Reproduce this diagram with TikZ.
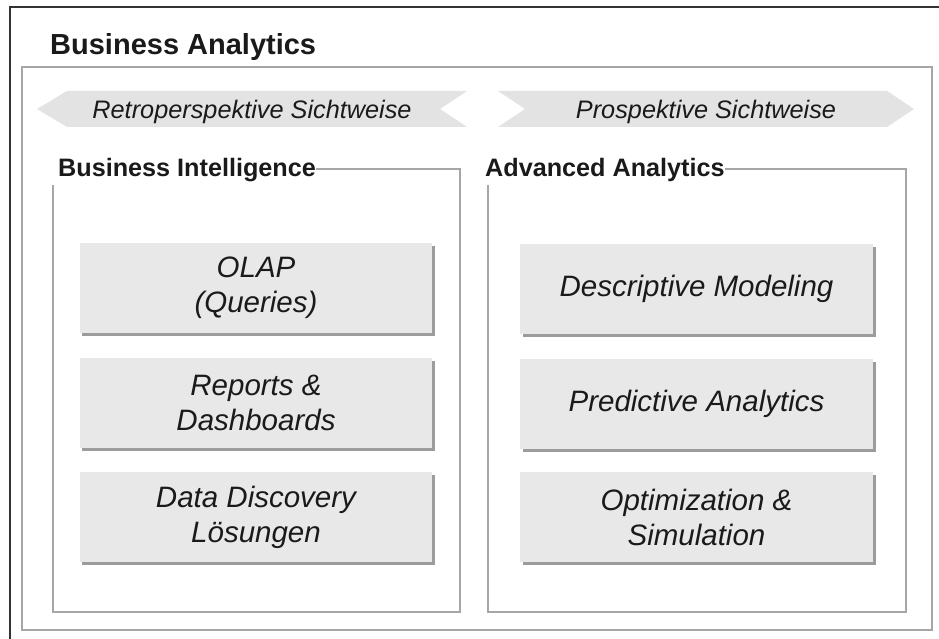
\documentclass[tikz,border=0pt]{standalone}
\usepackage{fontspec}
\setmainfont{Liberation Sans}
\usetikzlibrary{shadows}
\definecolor{framegray}{HTML}{A6A6A6}
\definecolor{arrowfill}{HTML}{E3E3E3}
\definecolor{boxfill}{HTML}{E8E8E8}
\definecolor{txt}{HTML}{1A1A1A}
\tikzset{
  itembox/.style={fill=boxfill, minimum width=352bp, minimum height=90bp, inner sep=0pt,
    align=center, text=txt, font=\itshape\fontsize{29.5bp}{35bp}\selectfont,
    drop shadow={shadow xshift=2.5bp, shadow yshift=-3bp, fill=black!70, opacity=0.55}},
  grouplabel/.style={anchor=base west, inner sep=0pt, text=txt, font=\bfseries\fontsize{25.2bp}{30bp}\selectfont},
  viewlabel/.style={anchor=base, inner sep=0pt, text=txt, font=\itshape\fontsize{25.3bp}{30bp}\selectfont},
  groupframe/.style={draw=framegray, line width=1.4bp},
  viewarrow/.style={fill=arrowfill, draw=none}
}
\begin{document}
\begin{tikzpicture}[x=1bp, y=-1bp]
\useasboundingbox (0,0) rectangle (939,639);
\fill[white] (0,0) rectangle (939,639);
% outer frame
\draw[black!80, line width=2bp] (10,640) -- (10,7) -- (940,7);
\node[anchor=base west, inner sep=0pt, text=txt, font=\bfseries\fontsize{29bp}{34bp}\selectfont] (title) at (50,55) {Business Analytics};
% inner frame
\draw[groupframe] (22,67) rectangle (932,630);
% view arrows
\fill[viewarrow] (37,109) -- (67,91) -- (467,91) -- (440,109) -- (467,127) -- (67,127) -- cycle;
\fill[viewarrow] (498,91) -- (887,91) -- (914,109) -- (887,127) -- (498,127) -- (525,109) -- cycle;
\node[viewlabel] (retro) at (252,119) {Retroperspektive Sichtweise};
\node[viewlabel] (pro) at (706,119) {Prospektive Sichtweise};
% groups
\node[grouplabel] (bi) at (58,177) {Business Intelligence};
\node[grouplabel] (aa) at (485,177) {Advanced Analytics};
\draw[groupframe] (bi.east |- 0,169) -- (460,169) -- (460,612) -- (53,612) -- (53,185);
\draw[groupframe] (aa.east |- 0,169) -- (906,169) -- (906,612) -- (488,612) -- (488,185);
% items
\node[itembox] (olap) at (256,288) {OLAP\\(Queries)};
\node[itembox] (rep) at (256,402.5) {Reports \&\\Dashboards};
\node[itembox] (dd) at (256,517) {Data Discovery\\Lösungen};
\node[itembox, minimum width=353bp] (desc) at (696.5,289) {Descriptive Modeling};
\node[itembox, minimum width=353bp] (pred) at (696.5,403.5) {Predictive Analytics};
\node[itembox, minimum width=353bp] (opt) at (696.5,517) {Optimization \&\\Simulation};
\end{tikzpicture}
\end{document}
